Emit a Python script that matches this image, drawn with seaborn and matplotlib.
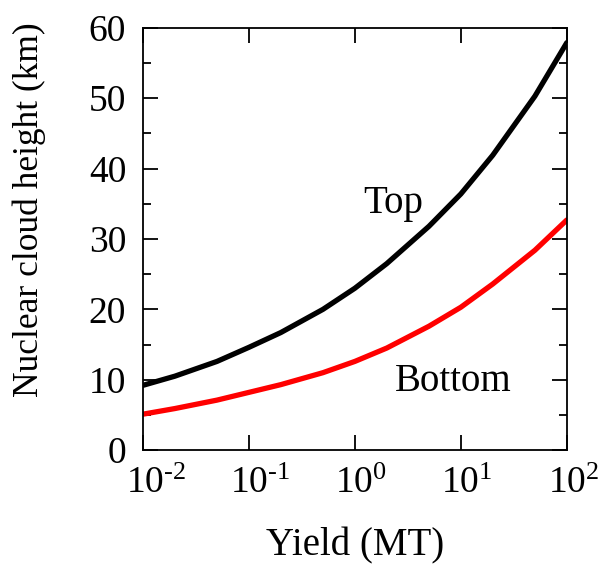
import matplotlib
matplotlib.use("Agg")
import matplotlib.pyplot as plt
import matplotlib.ticker as mticker
import matplotlib.transforms as mtransforms
import seaborn as sns
import pandas as pd

# values
yield_mt = [0.01, 0.02, 0.05, 0.1, 0.2, 0.5, 1, 2, 5, 10, 20, 50, 100]
top_km = [9.2, 10.5, 12.6, 14.6, 16.7, 20.0, 23.0, 26.5, 31.8, 36.4, 41.9, 50.3, 57.9]
bottom_km = [5.1, 5.9, 7.1, 8.2, 9.3, 11.0, 12.6, 14.5, 17.6, 20.3, 23.6, 28.4, 32.7]
x_ticks = [0.01, 0.1, 1, 10, 100]
x_tick_labels = ["10$^{\u20102}$", "10$^{\u20101}$", "10$^{0}$", "10$^{1}$", "10$^{2}$"]

sns.set_style("ticks")
plt.rcParams["font.family"] = ["Liberation Serif", "DejaVu Serif"]
plt.rcParams["mathtext.fontset"] = "custom"
plt.rcParams["mathtext.rm"] = "Liberation Serif"
plt.rcParams["mathtext.it"] = "Liberation Serif"
plt.rcParams["mathtext.default"] = "regular"
plt.rcParams["text.color"] = "black"
plt.rcParams["axes.labelcolor"] = "black"
plt.rcParams["xtick.color"] = "black"
plt.rcParams["ytick.color"] = "black"
plt.rcParams["axes.edgecolor"] = "black"

df = pd.DataFrame({
    "Yield": yield_mt * 2,
    "Height": top_km + bottom_km,
    "Cloud": ["Top"] * len(yield_mt) + ["Bottom"] * len(yield_mt),
})

fig = plt.figure(figsize=(6.03, 5.69), dpi=100)
ax = fig.add_axes([0.237, 0.209, 0.703, 0.742])

sns.lineplot(data=df, x="Yield", y="Height", hue="Cloud",
             palette={"Top": "black", "Bottom": "red"}, linewidth=3.8,
             legend=False, ax=ax)

ax.set_xscale("log")
ax.set_xlim(0.01, 100)
ax.set_ylim(0, 60)
ax.set_xticks(x_ticks)
ax.set_xticklabels(x_tick_labels)
ax.xaxis.set_minor_locator(mticker.NullLocator())
ax.yaxis.set_major_locator(mticker.MultipleLocator(10))
ax.yaxis.set_minor_locator(mticker.MultipleLocator(5))

ax.tick_params(which="both", direction="in", top=True, right=True, width=1.3, labelsize=27)
ax.tick_params(which="major", length=11)
ax.tick_params(axis="x", which="major", pad=12)
ax.tick_params(axis="y", which="major", pad=12)
ax.tick_params(which="minor", length=6)
for s in ax.spines.values():
    s.set_linewidth(1.3)

# the "10" of each label sits on its tick, exponent hangs to the right
shifts = [0.13, 0.11, 0.06, 0.06, 0.07]
for lab, dx in zip(ax.get_xticklabels(), shifts):
    lab.set_transform(lab.get_transform() + mtransforms.ScaledTranslation(dx, 0, fig.dpi_scale_trans))

ax.set_xlabel("Yield (MT)", fontsize=28, labelpad=19)
ax.set_ylabel("Nuclear cloud height (km)", fontsize=25.5)
ax.yaxis.set_label_coords(-0.228, 0.57)

ax.text(2.3, 35.0, "Top", fontsize=28, ha="center", va="center")
ax.text(8.4, 9.8, "Bottom", fontsize=28, ha="center", va="center")

fig.savefig("out.png", dpi=100)
